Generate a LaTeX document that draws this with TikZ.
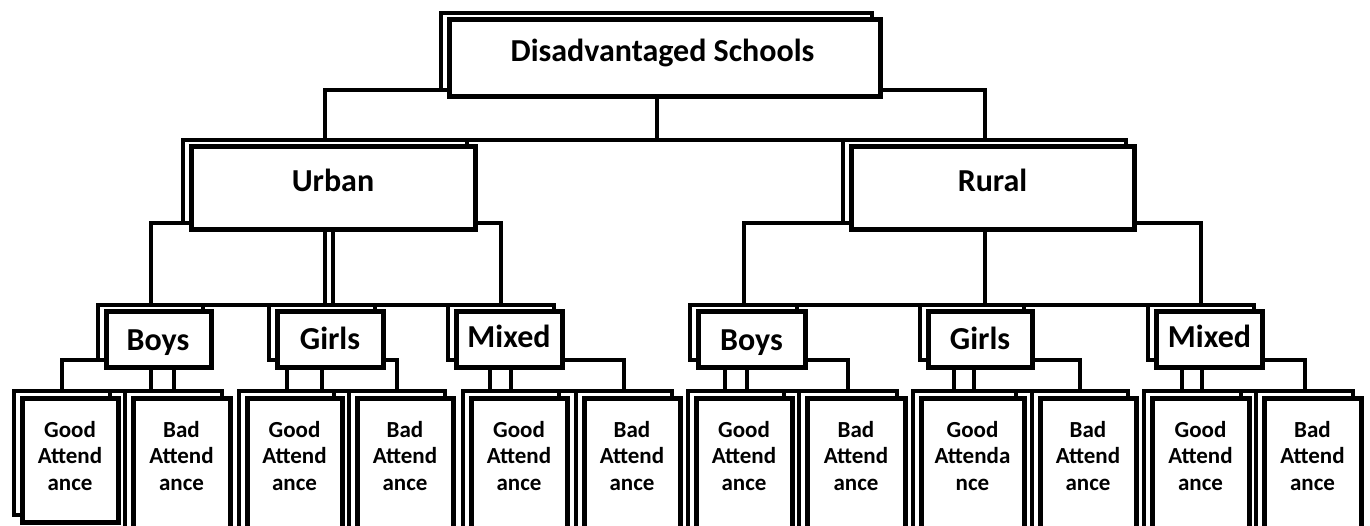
\documentclass[tikz,border=0pt]{standalone}
\usepackage{fontspec}
\setmainfont{Carlito}
\usetikzlibrary{backgrounds}
\tikzset{
  inbox/.style={draw=black, fill=white, line width=5pt, inner sep=0pt, outer sep=0pt, rectangle},
  outbox/.style={draw=black, line width=4pt, inner sep=0pt, outer sep=0pt, rectangle},
  conn/.style={draw=black, line width=4pt, line cap=rect},
  bigtxt/.style={font=\fontsize{32}{38}\selectfont\bfseries, inner sep=0pt, anchor=base},
  smalltxt/.style={font=\fontsize{23}{26.5}\selectfont\bfseries, inner sep=0pt, align=center, anchor=base}
}
\begin{document}
\begin{tikzpicture}[x=1pt, y=-1pt]
\useasboundingbox (0,0) rectangle (1370,526);
\def\boxlist{top/449/20/880/97, urban/191/147/475/230, rural/851/147/1134/230,
  ub/106/312/211/367, ug/277/312/383/367, um/456/312/562/367,
  rb/698/312/805/367, rg/928/312/1032/367, rm/1156/312/1262/367,
  g1/22/398/118/522, b1/133/398/230/560, g2/247/398/342/560, b2/357/398/453/560,
  g3/471/398/567/560, b3/584/398/680/560, g4/696/398/792/560, b4/807/398/905/560,
  g5/921/398/1024/560, b5/1040/398/1136/560, g6/1152/398/1249/560, b6/1264/398/1361/560}
% inner boxes
\foreach \n/\l/\t/\r/\b in \boxlist {
  \node[inbox, minimum width={\r-\l}, minimum height={\b-\t}] (\n) at ({(\l+\r)/2},{(\t+\b)/2}) {};
}
\begin{pgfonlayer}{background}
% outer (offset) boxes
\foreach \n/\l/\t/\r/\b in \boxlist {
  \node[outbox, minimum width={\r-\l}, minimum height={\b-\t}] (o-\n) at ({(\l+\r)/2-8},{(\t+\b)/2-7}) {};
}
% level 0 -> 1
\draw[conn] (o-top.south west) -| (o-urban.north);
\draw[conn] (o-top.south east) -| (o-rural.north);
\draw[conn] (o-top.south) -- (o-top.south |- o-urban.north);
\draw[conn] (o-urban.north west) -- (o-rural.north east);
% Urban -> level 2
\draw[conn] (o-urban.south west) -| (o-ub.north);
\draw[conn] (o-urban.south east) -| (o-um.north);
\draw[conn] (o-urban.south) -- (o-urban.south |- o-ub.north);
\draw[conn] (urban.south) -- (urban.south |- o-ub.north);
\draw[conn] (o-ub.north west) -- (o-um.north east);
% Rural -> level 2
\draw[conn] (o-rural.south west) -| (o-rb.north);
\draw[conn] (o-rural.south east) -| (o-rm.north);
\draw[conn] (o-rural.south) -- (o-rural.south |- o-rb.north);
\draw[conn] (o-rb.north west) -- (o-rm.north east);
% level 2 -> 3
\draw[conn] (o-ub.south west) -| (o-g1.north);
\draw[conn] (o-ub.south) -- (o-ub.south |- o-g1.north);
\draw[conn] (o-b1.north |- ub.south) -- (o-b1.north);
\draw[conn] (o-ug.south east) -| (o-b2.north);
\draw[conn] (o-ug.south) -- (o-ug.south |- o-g2.north);
\draw[conn] (o-g2.north |- ug.south) -- (o-g2.north);
\draw[conn] (o-um.south east) -| (o-b3.north);
\draw[conn] ([xshift=10pt]o-um.south) -- ([xshift=10pt]o-um.south |- o-g3.north);
\draw[conn] ([xshift=-11pt]o-um.south) -- ([xshift=-11pt]o-um.south |- o-g3.north);
\draw[conn] (o-rb.south east) -| (o-b4.north);
\draw[conn] ([xshift=3.5pt]o-rb.south) -- ([xshift=3.5pt]o-rb.south |- o-g4.north);
\draw[conn] ([xshift=-18.5pt]o-rb.south) -- ([xshift=-18.5pt]o-rb.south |- o-g4.north);
\draw[conn] (o-rg.south east) -| (o-b5.north);
\draw[conn] ([xshift=2pt]o-rg.south) -- ([xshift=2pt]o-rg.south |- o-g5.north);
\draw[conn] ([xshift=-18pt]o-rg.south) -- ([xshift=-18pt]o-rg.south |- o-g5.north);
\draw[conn] (o-rm.south east) -| (o-b6.north);
\draw[conn] ([xshift=1pt]o-rm.south) -- ([xshift=1pt]o-rm.south |- o-g6.north);
\draw[conn] ([xshift=-19pt]o-rm.south) -- ([xshift=-19pt]o-rm.south |- o-g6.north);
\foreach \i in {1,...,6} {
  \draw[conn] (o-g\i.north west) -- (o-b\i.north east);
}
\end{pgfonlayer}
% texts
\node[bigtxt] (t-top) at (662.5,62) {Disadvantaged Schools};
\node[bigtxt] (t-urban) at (333,192) {Urban};
\node[bigtxt] (t-rural) at (992.5,192) {Rural};
\node[bigtxt] (t-ub) at (158,351) {Boys};
\node[bigtxt] (t-ug) at (330,349) {Girls};
\node[bigtxt] (t-um) at (509,348) {Mixed};
\node[bigtxt] (t-rb) at (751.5,350) {Boys};
\node[bigtxt] (t-rg) at (980,349) {Girls};
\node[bigtxt] (t-rm) at (1209.5,348) {Mixed};
\node[smalltxt] (t-g1) at (70,490) {Good\\Attend\\ance};
\node[smalltxt] (t-b1) at (181.5,490) {Bad\\Attend\\ance};
\node[smalltxt] (t-g2) at (294.5,490) {Good\\Attend\\ance};
\node[smalltxt] (t-b2) at (405,490) {Bad\\Attend\\ance};
\node[smalltxt] (t-g3) at (519,490) {Good\\Attend\\ance};
\node[smalltxt] (t-b3) at (632,490) {Bad\\Attend\\ance};
\node[smalltxt] (t-g4) at (744,490) {Good\\Attend\\ance};
\node[smalltxt] (t-b4) at (856,490) {Bad\\Attend\\ance};
\node[smalltxt] (t-g5) at (972.5,490) {Good\\Attenda\\nce};
\node[smalltxt] (t-b5) at (1088,490) {Bad\\Attend\\ance};
\node[smalltxt] (t-g6) at (1200.5,490) {Good\\Attend\\ance};
\node[smalltxt] (t-b6) at (1312.5,490) {Bad\\Attend\\ance};
\end{tikzpicture}
\end{document}
